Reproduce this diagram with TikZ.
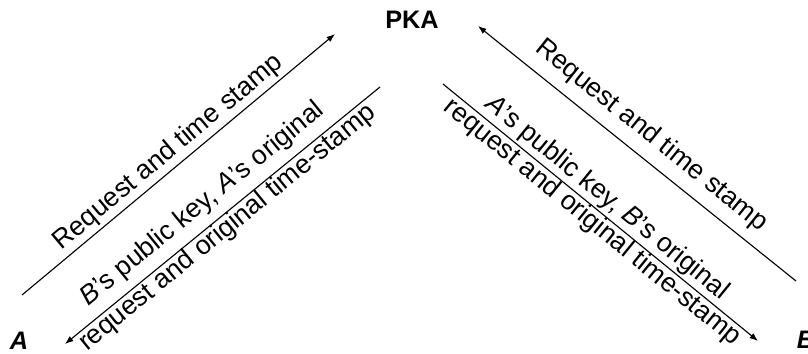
\documentclass[tikz,border=0pt]{standalone}
\usepackage{fontspec}
\setmainfont{Liberation Sans}
\usetikzlibrary{arrows.meta}

\tikzset{
  msg/.style={-{Latex[length=6pt,width=4.5pt]}, line width=0.8pt, black},
  lbl/.style={font=\fontsize{19}{23}\selectfont, sloped, inner sep=2pt},
  party/.style={font=\fontsize{18}{22}\selectfont\bfseries\itshape, inner sep=0pt}
}

\begin{document}
\begin{tikzpicture}
  \useasboundingbox (0,0) rectangle (20.2,-8.825);

  \node[font=\fontsize{18}{22}\selectfont\bfseries, inner sep=0pt] (pka) at (10.3,-0.5) {PKA};
  \node[party] (a) at (0.475,-8.525) {A};
  \node[party] (b) at (20.15,-8.5) {B};

  % A <-> PKA
  \coordinate (a-out) at (0.55,-7.375);
  \coordinate (pka-in-a) at (8.375,-0.85);
  \coordinate (pka-out-a) at (9.5,-2.175);
  \coordinate (a-in) at (1.625,-8.6);
  \draw[msg] (a-out) -- (pka-in-a)
    node[lbl, midway, above] {Request and time stamp};
  \draw[msg] (pka-out-a) -- (a-in)
    node[lbl, pos=0.52, above, inner sep=6pt] {\textit{B}'s public key, \textit{A}'s original}
    node[lbl, pos=0.51, below, inner sep=0pt] {request and original time-stamp};

  % B <-> PKA
  \coordinate (b-out) at (19.9,-7.025);
  \coordinate (pka-in-b) at (11.95,-0.65);
  \coordinate (pka-out-b) at (11.075,-2.1);
  \coordinate (b-in) at (18.95,-8.525);
  \draw[msg] (b-out) -- (pka-in-b)
    node[lbl, pos=0.5, above, inner sep=7pt] {Request and time stamp};
  \draw[msg] (pka-out-b) -- (b-in)
    node[lbl, pos=0.49, above, inner sep=1.5pt] {\textit{A}'s public key, \textit{B}'s original}
    node[lbl, pos=0.5, below, inner sep=0pt] {request and original time-stamp};
\end{tikzpicture}
\end{document}
